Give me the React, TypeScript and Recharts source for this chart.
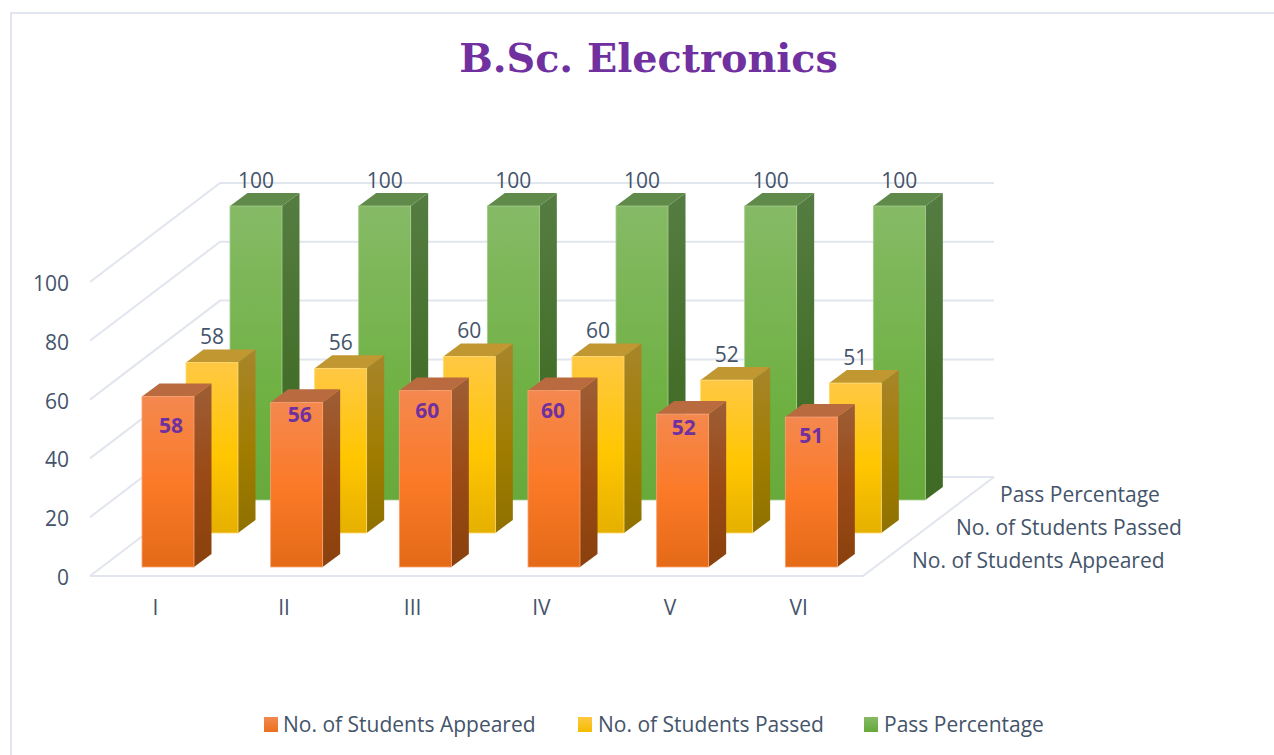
import React from 'react';
import { ComposedChart, Bar, XAxis, YAxis, CartesianGrid, LabelList } from 'recharts';

const semesters = ['I', 'II', 'III', 'IV', 'V', 'VI'];
const appeared = [58, 56, 60, 60, 52, 51];
const passed = [58, 56, 60, 60, 52, 51];
const passPercentage = [100, 100, 100, 100, 100, 100];
const yTicks = [0, 20, 40, 60, 80, 100];

const seriesNames = ['No. of Students Appeared', 'No. of Students Passed', 'Pass Percentage'];

// the purple labels on the orange bars sit unevenly in the original
const appearedLabelDx = [3, 3, 2, -1, 1, 0];
const appearedLabelDy = [29, 12, 20, 20, 13, 18];

const chartData = semesters.map((s, i) => ({
  semester: s,
  appeared: appeared[i],
  passed: passed[i],
  passPercentage: passPercentage[i],
}));

const TEXT = '#44546A';
const GRID = '#E1E5ED';
const FONT = '"Open Sans", sans-serif';

const DEPTH_X = 17.5;
const DEPTH_Y = 13;

const Box3D = ({ x, y, width, height, dx, dy, id, topFill, edge }: any) => {
  const l = x + dx;
  const t = y + dy;
  const r = l + width;
  const b = t + height;
  return (
    <g>
      <polygon
        points={`${r},${t} ${r + DEPTH_X},${t - DEPTH_Y} ${r + DEPTH_X},${b - DEPTH_Y} ${r},${b}`}
        fill={`url(#${id}-side)`}
      />
      <polygon
        points={`${l},${t} ${l + DEPTH_X},${t - DEPTH_Y} ${r + DEPTH_X},${t - DEPTH_Y} ${r},${t}`}
        fill={topFill}
      />
      <rect x={l} y={t} width={width} height={height} fill={`url(#${id}-front)`} stroke={edge} strokeWidth={0.8} />
    </g>
  );
};

const GridLine = ({ x1, x2, y1 }: any) => {
  const isFloor = y1 > 570;
  return (
    <g>
      <polyline
        points={`${x1 - 14},${y1} ${x1 + 116},${y1 - 99} ${x2 + 118},${y1 - 99}`}
        fill="none"
        stroke={GRID}
        strokeWidth={2}
      />
      {isFloor && (
        <polyline
          points={`${x1 - 14},${y1} ${x2 - 13},${y1} ${x2 + 118},${y1 - 99}`}
          fill="none"
          stroke={GRID}
          strokeWidth={2}
        />
      )}
    </g>
  );
};

const TopLabel = ({ x, y, width, value, dx, dy }: any) => (
  <text x={x + width / 2 + dx} y={y + dy - 18.5} textAnchor="middle" fontSize={21} fontFamily={FONT} fill={TEXT}>
    {value}
  </text>
);

const AppearedLabel = ({ x, y, width, value, index }: any) => (
  <text
    x={x + width / 2 + appearedLabelDx[index]}
    y={y - 9 + appearedLabelDy[index] + 7.5}
    textAnchor="middle"
    fontSize={21}
    fontWeight={700}
    fontFamily={FONT}
    fill="#7030A0"
  >
    {value}
  </text>
);

const legendSwatches = [
  { left: 264, text: 283, grad: 'linear-gradient(#F4884F, #E9701E)' },
  { left: 578, text: 598, grad: 'linear-gradient(#FFC843, #F2BC00)' },
  { left: 864, text: 884, grad: 'linear-gradient(#86BA66, #66A83A)' },
];

const LegendRow = () => (
  <div style={{ position: 'absolute', left: 0, top: 0, width: 1274, height: 755 }}>
    {seriesNames.map((name, i) => (
      <React.Fragment key={name}>
        <div
          style={{
            position: 'absolute',
            left: legendSwatches[i].left,
            top: 717,
            width: 14,
            height: 15,
            background: legendSwatches[i].grad,
          }}
        />
        <div
          style={{
            position: 'absolute',
            left: legendSwatches[i].text,
            top: 710,
            fontSize: 21,
            lineHeight: '28px',
            whiteSpace: 'nowrap',
            fontFamily: FONT,
            color: TEXT,
          }}
        >
          {name}
        </div>
      </React.Fragment>
    ))}
  </div>
);

const gradient = (id: string, stops: [string, string][]) => (
  <linearGradient id={id} x1="0" y1="0" x2="0" y2="1">
    {stops.map(([o, c]) => (
      <stop key={o} offset={o} stopColor={c} />
    ))}
  </linearGradient>
);

const depthLabelPos = [
  { left: 912, top: 546 },
  { left: 956, top: 513 },
  { left: 1000, top: 480 },
];

export default function App() {
  return (
    <div style={{ position: 'absolute', left: 0, top: 0, width: 1274, height: 755, background: '#fff', overflow: 'hidden' }}>
      <div
        style={{
          position: 'absolute',
          left: 10,
          top: 12,
          width: 1264,
          height: 743,
          borderTop: `2px solid ${GRID}`,
          borderLeft: `2px solid ${GRID}`,
        }}
      />
      <div
        style={{
          position: 'absolute',
          left: 0,
          top: 28,
          width: 1297,
          textAlign: 'center',
          fontFamily: '"DejaVu Serif", serif',
          fontWeight: 700,
          fontSize: 39.7,
          lineHeight: '60px',
          color: '#7030A0',
        }}
      >
        B.Sc. Electronics
      </div>
      <div style={{ position: 'absolute', left: 0, top: 0 }}>
        <ComposedChart
          width={1274}
          height={755}
          data={chartData}
          margin={{ top: 282, right: 398, bottom: 0, left: 0 }}
          barSize={52}
          barGap={-52}
        >
          <defs>
            {gradient('orange-front', [['0', '#F4884F'], ['0.5', '#FB7A28'], ['1', '#E46A17']])}
            {gradient('orange-side', [['0', '#9E5E36'], ['0.5', '#9A4A16'], ['1', '#8A410D']])}
            {gradient('yellow-front', [['0', '#FFC843'], ['0.55', '#FFC600'], ['1', '#E5B000']])}
            {gradient('yellow-side', [['0', '#A8852A'], ['0.55', '#A07D00'], ['1', '#8F7100']])}
            {gradient('green-front', [['0', '#86BA66'], ['0.7', '#6DB040'], ['1', '#68A93C']])}
            {gradient('green-side', [['0', '#557D42'], ['0.6', '#446F2A'], ['1', '#3F6A24']])}
          </defs>
          <CartesianGrid horizontal={(p: any) => <GridLine key={p.y1} {...p} />} vertical={false} />
          <XAxis
            dataKey="semester"
            height={179}
            axisLine={false}
            tickLine={false}
            tickSize={0}
            tickMargin={24}
            tick={{ dx: -13, fontSize: 21, fontFamily: FONT, fill: TEXT }}
            interval={0}
          />
          <YAxis
            domain={[0, 100]}
            ticks={yTicks}
            width={104}
            axisLine={false}
            tickLine={false}
            tickSize={0}
            tickMargin={35}
            tick={{ dy: 1.5, fontSize: 21, fontFamily: FONT, fill: TEXT }}
          />
          <Bar
            dataKey="passPercentage"
            name={seriesNames[2]}
            isAnimationActive={false}
            shape={(p: any) => <Box3D {...p} dx={88} dy={-76} id="green" topFill="#5F8A4A" edge="#A5CC8C" />}
          >
            <LabelList dataKey="passPercentage" content={(p: any) => <TopLabel {...p} dx={88} dy={-76} />} />
          </Bar>
          <Bar
            dataKey="passed"
            name={seriesNames[1]}
            isAnimationActive={false}
            shape={(p: any) => <Box3D {...p} dx={44} dy={-43} id="yellow" topFill="#C19732" edge="#FFD971" />}
          >
            <LabelList dataKey="passed" content={(p: any) => <TopLabel {...p} dx={44} dy={-43} />} />
          </Bar>
          <Bar
            dataKey="appeared"
            name={seriesNames[0]}
            isAnimationActive={false}
            shape={(p: any) => <Box3D {...p} dx={0} dy={-9} id="orange" topFill="#B96A3F" edge="#F9A273" />}
          >
            <LabelList dataKey="appeared" content={(p: any) => <AppearedLabel {...p} />} />
          </Bar>
        </ComposedChart>
      </div>
      {seriesNames.map((name, i) => (
        <div
          key={name}
          style={{
            position: 'absolute',
            left: depthLabelPos[i].left,
            top: depthLabelPos[i].top,
            fontSize: 21,
            lineHeight: '28px',
            whiteSpace: 'nowrap',
            fontFamily: FONT,
            color: TEXT,
          }}
        >
          {name}
        </div>
      ))}
      <LegendRow />
    </div>
  );
}
